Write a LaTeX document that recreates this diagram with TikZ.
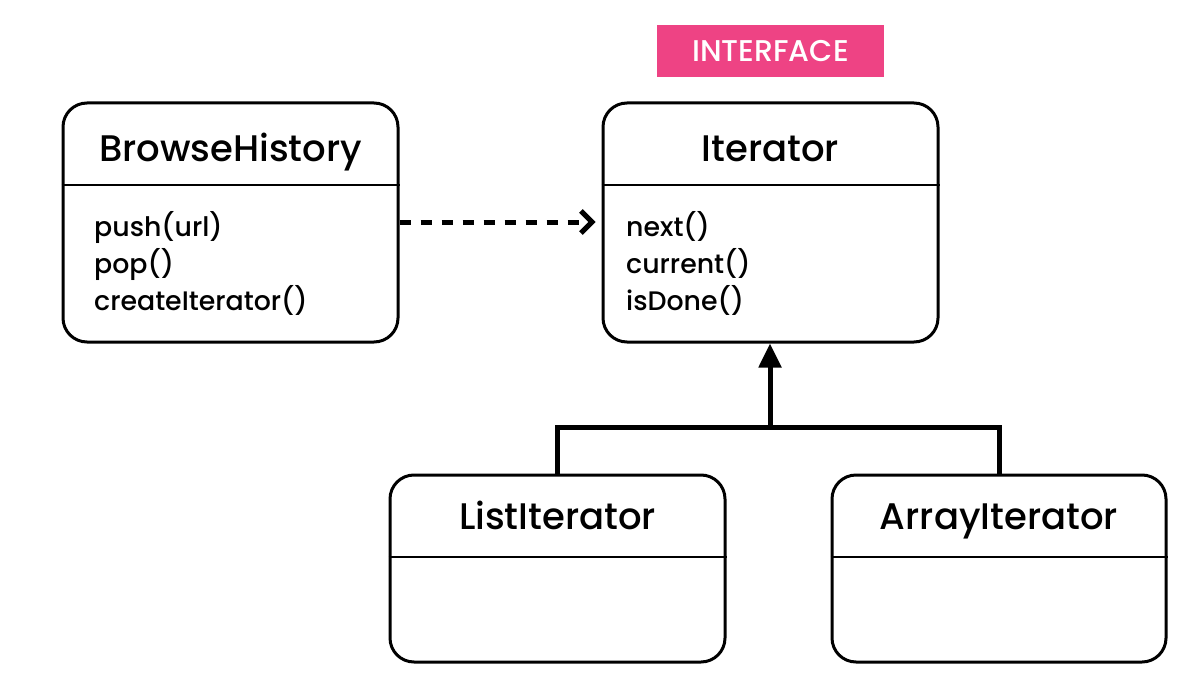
\documentclass[tikz,border=0pt]{standalone}
\usepackage{fontspec}
\setmainfont{Poppins}[UprightFont=* Medium]
\usetikzlibrary{arrows.meta}
\definecolor{tagpink}{HTML}{EE4384}
\tikzset{
  classbox/.style={draw=black, line width=3pt, rounded corners=24pt, fill=white, inner sep=0pt},
  divider/.style={draw=black, line width=2pt},
  classtitle/.style={font=\fontsize{37}{42}\selectfont, inner sep=0pt, anchor=base},
  methods/.style={font=\fontsize{26.8}{37}\selectfont, align=left, anchor=base west, inner sep=0pt},
  link/.style={line width=5pt},
}
\begin{document}
\begin{tikzpicture}[x=1pt, y=-1pt]
\useasboundingbox (0,0) rectangle (1182,687);

% interface tag
\node[fill=tagpink, minimum width=227pt, minimum height=52pt, inner sep=0pt,
      text=white, font=\fontsize{30}{34}\selectfont] (tag) at (770.5,51) {INTERFACE};

% class boxes
\node[classbox, minimum width=335pt, minimum height=239pt] (bh) at (230.5,222.5) {};
\node[classbox, minimum width=335pt, minimum height=239pt] (it) at (770.5,222.5) {};
\node[classbox, minimum width=335pt, minimum height=187pt] (li) at (557.5,568.5) {};
\node[classbox, minimum width=334pt, minimum height=187pt] (ai) at (999,568.5) {};

% header dividers
\draw[divider] (bh.west |- 0,185) -- (bh.east |- 0,185);
\draw[divider] (it.west |- 0,185) -- (it.east |- 0,185);
\draw[divider] (li.west |- 0,557) -- (li.east |- 0,557);
\draw[divider] (ai.west |- 0,557) -- (ai.east |- 0,557);

% titles
\node[classtitle] (bht) at (230.5,161) {BrowseHistory};
\node[classtitle] (itt) at (770.5,161) {Iterator};
\node[classtitle] (lit) at (557.5,529) {ListIterator};
\node[classtitle] (ait) at (999,529) {ArrayIterator};

% operations (anchored at the baseline of the last line)
\node[methods] (bhm) at (94,310) {push(url)\\pop()\\createIterator()};
\node[methods] (itm) at (626,310) {next()\\current()\\isDone()};

% dependency
\draw[link, dash pattern=on 11pt off 10pt, -{Straight Barb[length=11pt, width=22pt, line width=5pt]}]
  (bh.east |- 0,222) -- ([xshift=-6pt]it.west |- 0,222);

% realization
\coordinate (join) at (770,427);
\draw[link, -{Triangle[length=24pt, width=22pt]}] (join) -- (it.south -| join);
\draw[link] (li.north -| 557,0) -- (557,427) -- (999,427) -- (ai.north -| 999,0);
\end{tikzpicture}
\end{document}
